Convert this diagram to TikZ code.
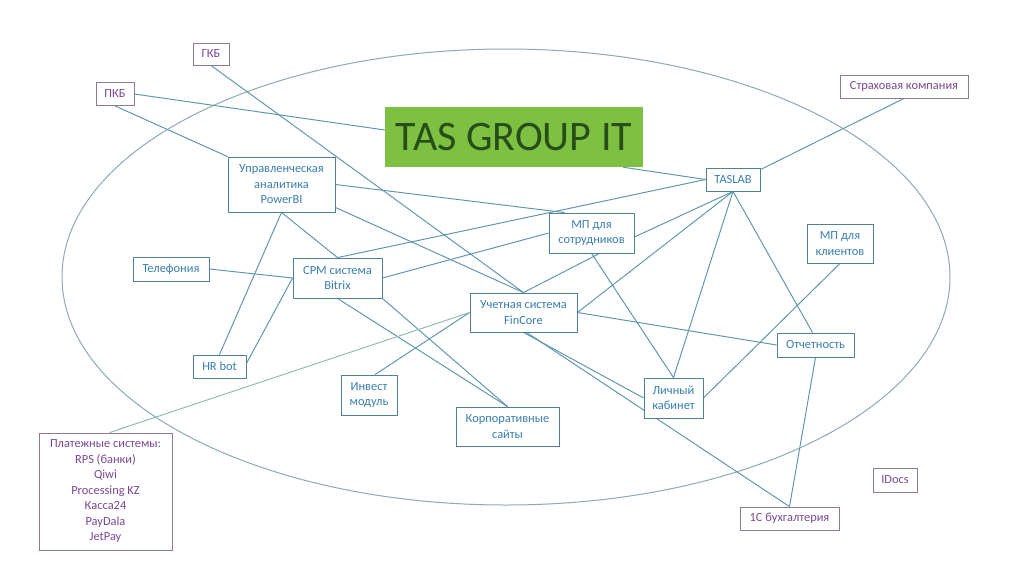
\documentclass[tikz,border=0pt]{standalone}
\usepackage{fontspec}
\setmainfont{Carlito}
\usetikzlibrary{calc}
\pgfdeclarelayer{base}
\pgfdeclarelayer{bg}
\pgfsetlayers{base,bg,main}
\definecolor{linecol}{RGB}{92,148,174}
\definecolor{boxcol}{RGB}{80,128,155}
\definecolor{txtblue}{RGB}{56,126,176}
\definecolor{purtxt}{RGB}{122,72,150}
\definecolor{purbox}{RGB}{140,122,150}
\definecolor{ellcol}{RGB}{140,170,180}
\definecolor{tasgreen}{RGB}{125,192,66}
\definecolor{tastxt}{RGB}{38,78,24}
\definecolor{paycol}{RGB}{135,188,178}
\tikzset{
  box/.style={draw=boxcol, line width=0.85pt, fill=white, text=txtblue, align=center,
    inner sep=0pt, font=\fontsize{12.4}{15.5}\selectfont},
  pbox/.style={box, draw=purbox, text=purtxt},
  conn/.style={draw=linecol, line width=0.95pt},
}
\begin{document}
\begin{tikzpicture}[x=1pt,y=-1pt]
\useasboundingbox (0,0) rectangle (1024,576);
\begin{pgfonlayer}{base}
\fill[white] (0,0) rectangle (1024,576);
\end{pgfonlayer}
% nodes
\node[pbox, minimum width=36pt, minimum height=22pt] (gkb) at (211,54) {ГКБ};
\node[pbox, minimum width=38pt, minimum height=23pt] (pkb) at (115,94) {ПКБ};
\node[fill=tasgreen, text=tastxt, inner sep=0pt, minimum width=258pt, minimum height=60pt,
  font=\fontsize{42}{44}\selectfont] (tas) at (514,137) {TAS GROUP IT};
\node[box, minimum width=107pt, minimum height=55pt] (upr) at (281.5,184.5) {Управленческая\\аналитика\\PowerBI};
\node[box, minimum width=54pt, minimum height=23pt] (taslab) at (733,179.5) {TASLAB};
\node[pbox, minimum width=128pt, minimum height=23pt] (strah) at (904,86.5) {Страховая компания};
\node[box, minimum width=85pt, minimum height=40pt] (mps) at (591.5,233) {МП для\\сотрудников};
\node[box, minimum width=66pt, minimum height=39pt] (mpk) at (840,243.5) {МП для\\клиентов};
\node[box, minimum width=77pt, minimum height=24pt] (otch) at (815.5,345) {Отчетность};
\node[box, minimum width=76pt, minimum height=24pt] (tel) at (171,269) {Телефония};
\node[box, minimum width=89pt, minimum height=40pt] (crm) at (337.5,278) {СРМ система\\Bitrix};
\node[box, minimum width=107pt, minimum height=39pt] (fin) at (523.5,312.5) {Учетная система\\FinCore};
\node[box, minimum width=53pt, minimum height=23pt] (hr) at (219.5,366.5) {HR bot};
\node[box, minimum width=56pt, minimum height=40pt] (inv) at (369,395) {Инвест\\модуль};
\node[box, minimum width=103pt, minimum height=39pt] (korp) at (507.5,426.5) {Корпоративные\\сайты};
\node[box, minimum width=59pt, minimum height=40pt] (lk) at (673.5,398) {Личный\\кабинет};
\node[pbox, minimum width=99pt, minimum height=23pt] (buh) at (789.5,518.5) {1С бухгалтерия};
\node[pbox, minimum width=44pt, minimum height=24pt] (idocs) at (895,480) {IDocs};
\node[pbox, minimum width=133pt, minimum height=117pt] (pay) at (105.5,491.5)
  {Платежные системы:\\RPS (банки)\\Qiwi\\Processing KZ\\Касса24\\PayDala\\JetPay};
\coordinate (ec) at (506,277);
\begin{pgfonlayer}{bg}
\draw[ellcol, line width=1pt] (ec) ellipse [x radius=444pt, y radius=228pt];
\draw[conn] (pkb.east) -- ([yshift=7pt]tas.west);
\draw[conn] (pkb.south) -- (upr.north west);
\draw[conn] (gkb.south) -- (fin.north);
\draw[conn] (upr.east) -- ([xshift=16pt]mps.north west);
\draw[conn] ([yshift=5pt]upr.south east) -- (fin.north);
\draw[conn] (upr.south) -- (crm.north);
\draw[conn] (upr.south) -- (hr.north);
\draw[conn] (crm.west) -- ([yshift=3pt]hr.east);
\draw[conn] (tel.east) -- (crm.west);
\draw[conn] (crm.north) -- (taslab.west);
\draw[conn] (crm.east) -- (mps.west);
\draw[conn] (crm.south) -- (korp.north);
\draw[conn] (crm.south east) -- (korp.north);
\draw[conn] (fin.west) -- ([xshift=6pt]inv.north);
\draw[paycol, line width=0.95pt] (fin.west) -- ([xshift=4pt]pay.north);
\draw[conn] (fin.north) -- ([xshift=8pt]mps.south);
\draw[conn] (fin.east) -- (taslab.south);
\draw[conn] (fin.east) -- (otch.west);
\draw[conn] (fin.south) -- (lk.west);
\draw[conn] ([xshift=3pt]fin.south) -- (buh.north);
\draw[conn] (taslab.south) -- (lk.north);
\draw[conn] (mps.south) -- (lk.north);
\draw[conn] (lk.east) -- (mpk.south);
\draw[conn] (otch.south) -- (buh.north);
\draw[conn] ([xshift=-20pt]tas.south east) -- (taslab.west);
\draw[conn] ([yshift=-2pt]taslab.north east) -- (strah.south);
\draw[conn] (taslab.south) -- ([yshift=-4pt]mps.east);
\draw[conn] (taslab.south) -- ([xshift=-3pt]otch.north);
\end{pgfonlayer}
\end{tikzpicture}
\end{document}
